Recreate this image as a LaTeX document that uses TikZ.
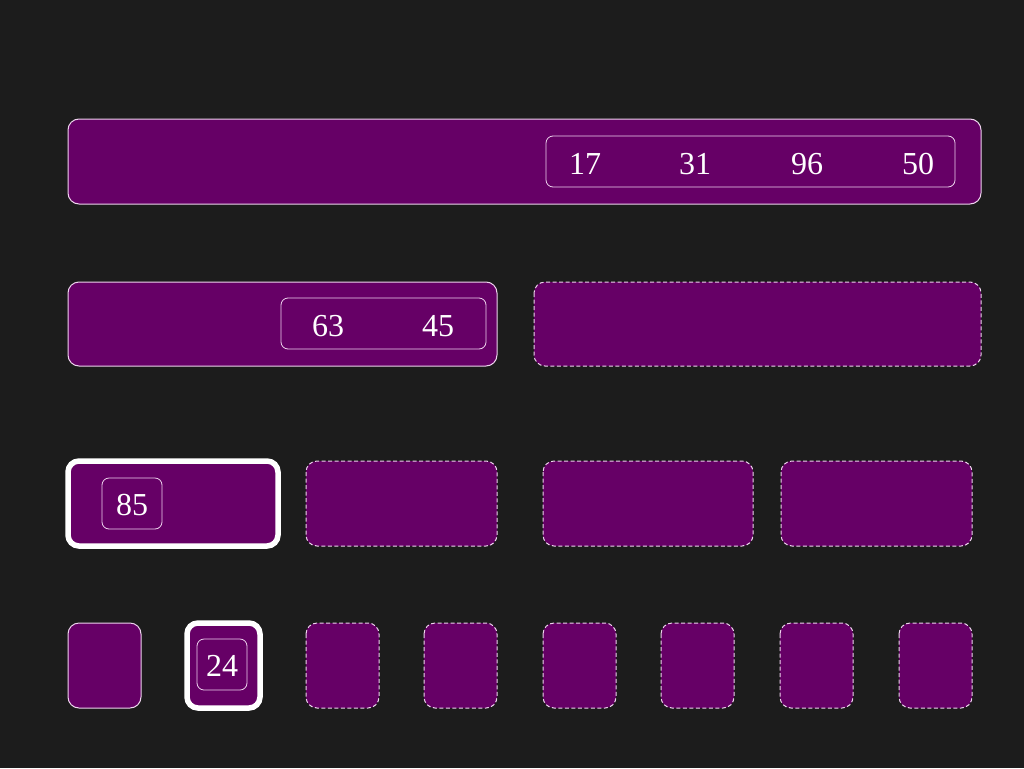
\documentclass[tikz,border=0pt]{standalone}
\usepackage{fontspec}
\setmainfont{Liberation Serif}
\definecolor{bg}{HTML}{1C1C1C}
\definecolor{pur}{HTML}{660066}
\definecolor{edge}{HTML}{EED4EE}
\begin{document}
\begin{tikzpicture}[x=1pt,y=-1pt,
  box/.style={fill=pur,draw=edge,line width=1pt,rounded corners=11pt},
  dbox/.style={box,dash pattern=on 4pt off 2.5pt},
  hbox/.style={box,draw=white,line width=5.5pt},
  ibox/.style={draw=edge,line width=0.8pt,rounded corners=7pt},
  num/.style={text=white,font=\fontsize{32}{32}\selectfont,inner sep=0pt}]
\fill[bg] (0,0) rectangle (1024,768);
\useasboundingbox (0,0) rectangle (1024,768);
% row 1
\draw[box] (68,119) rectangle (981,204);
\draw[ibox] (546,136) rectangle (955,187);
\node[num] (n17) at (585,164) {17};
\node[num] (n31) at (695,164) {31};
\node[num] (n96) at (807,164) {96};
\node[num] (n50) at (918,164) {50};
% row 2
\draw[box] (68,282) rectangle (497,366);
\draw[ibox] (281,298) rectangle (486,349);
\node[num] (n63) at (328,326) {63};
\node[num] (n45) at (438,326) {45};
\draw[dbox] (534,282) rectangle (981,366);
% row 3
\draw[hbox] (68,461) rectangle (278,546);
\draw[ibox] (102,478) rectangle (162,529);
\node[num] (n85) at (132,505) {85};
\draw[dbox] (306,461) rectangle (497,546);
\draw[dbox] (543,461) rectangle (753,546);
\draw[dbox] (781,461) rectangle (972,546);
% row 4
\draw[box] (68,623) rectangle (141,708);
\draw[hbox] (187,623) rectangle (260,708);
\draw[ibox] (197,639) rectangle (247,690);
\node[num] (n24) at (222,666) {24};
\foreach \x in {306,424,543,661,780,899}
  \draw[dbox] (\x,623) rectangle (\x+73,708);
\end{tikzpicture}
\end{document}
